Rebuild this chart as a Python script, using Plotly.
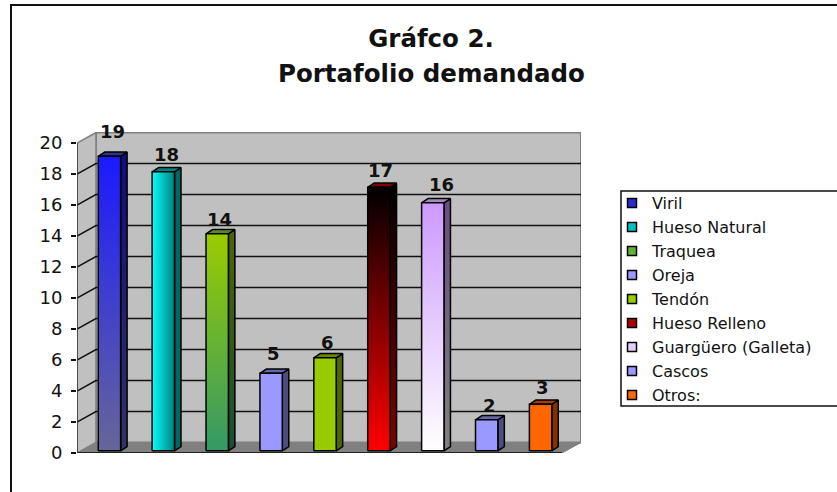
import plotly.graph_objects as go

categories = ["Viril", "Hueso Natural", "Traquea", "Oreja", "Tendón",
              "Hueso Relleno", "Guargüero (Galleta)", "Cascos", "Otros:"]
values = [19, 18, 14, 5, 6, 17, 16, 2, 3]
tick_values = list(range(0, 21, 2))
title_line1 = "Gráfco 2."
title_line2 = "Portafolio demandado"
# gradient: (direction, first colour, second colour)
front_fill = [("vertical", "#666699", "#1a1aff"), ("horizontal", "#00ffff", "#008080"),
              ("vertical", "#339966", "#99cc00"), ("vertical", "#9999ff", "#9999ff"),
              ("vertical", "#99cc00", "#99cc00"), ("vertical", "#ff0000", "#000000"),
              ("vertical", "#ffffff", "#cc99ff"), ("vertical", "#9999ff", "#9999ff"),
              ("vertical", "#ff6600", "#ff6600")]
side_fill = [("#333366", "#0d0d80"), ("#006666", "#006666"), ("#1a4d33", "#4d6600"),
             ("#4d4d80", "#4d4d80"), ("#4d6600", "#4d6600"), ("#800000", "#000000"),
             ("#808080", "#664d80"), ("#4d4d80", "#4d4d80"), ("#803300", "#803300")]
top_fill = ["#33338c", "#008080", "#5a8a20", "#6666aa", "#668800",
            "#800000", "#a58ac0", "#6666aa", "#a04000"]
legend_fill = ["#2a2ad0", "#00c0c0", "#66b033", "#9999ff", "#99cc00",
               "#aa0000", "#e5ccff", "#9999ff", "#ff6600"]
# label placement relative to its bar (px)
label_dx = [3.5, 3, 2, 2, 2, 2, 9, 3, 2]
label_dy = [25, 17, 14, 20, 15, 17, 18, 14, 17]

PX_X = 54.0   # px per category
PX_Y = 15.5   # px per value unit
W, H = 837, 492
L, R, T, B = 77, 581, 132, 453
DEPTH_X = 19 / PX_X
DEPTH_Y = 10.5 / PX_Y
X0, X1 = -0.5, 8.5
BAR_SHIFT_X = 5.5 / PX_X
BAR_SHIFT_Y = 2.2 / PX_Y
HALF = 11.2 / PX_X
SX = 6.5 / PX_X
SY = 4.2 / PX_Y
FONT = "DejaVu Sans"

fig = go.Figure()

def poly(xs, ys, fill=None, grad=None, line="#000000", width=1.5):
    kw = dict(x=xs + xs[:1], y=ys + ys[:1], mode="lines", fill="toself",
              line=dict(color=line, width=width), hoverinfo="skip", showlegend=False)
    if grad:
        kw["fillcolor"] = grad[1]
        kw["fillgradient"] = dict(type=grad[0], colorscale=[[0, grad[1]], [1, grad[2]]])
    else:
        kw["fillcolor"] = fill
    fig.add_trace(go.Scatter(**kw))

def seg(xs, ys, color, width):
    fig.add_trace(go.Scatter(x=xs, y=ys, mode="lines", line=dict(color=color, width=width),
                             hoverinfo="skip", showlegend=False))

ymax = max(tick_values)
# walls
poly([X0 + DEPTH_X, X1 + DEPTH_X, X1 + DEPTH_X, X0 + DEPTH_X],
     [DEPTH_Y, DEPTH_Y, ymax + DEPTH_Y, ymax + DEPTH_Y], fill="#c0c0c0", line="#808080", width=2)
poly([X0, X0 + DEPTH_X, X0 + DEPTH_X, X0],
     [0, DEPTH_Y, ymax + DEPTH_Y, ymax], fill="#c0c0c0", line="#808080", width=1.5)
poly([X0, X1, X1 + DEPTH_X, X0 + DEPTH_X],
     [0, 0, DEPTH_Y, DEPTH_Y], fill="#808080", line="#808080", width=1)

# gridlines along side wall and back wall
gx, gy = [], []
for t in tick_values[1:-1]:
    gx += [X0, X0 + DEPTH_X, X1 + DEPTH_X, None]
    gy += [t, t + DEPTH_Y, t + DEPTH_Y, None]
seg(gx, gy, "#111111", 1.5)
seg([X0, X1], [0, 0], "#222222", 2)
seg([X0, X0], [0, ymax], "#333333", 1.5)

# bars
for i, v in enumerate(values):
    c = i + BAR_SHIFT_X
    y0 = BAR_SHIFT_Y
    y1 = v + BAR_SHIFT_Y
    poly([c + HALF, c + HALF + SX, c + HALF + SX, c + HALF],
         [y0, y0 + SY, y1 + SY, y1], grad=("vertical", side_fill[i][0], side_fill[i][1]))
    poly([c - HALF, c + HALF, c + HALF + SX, c - HALF + SX],
         [y1, y1, y1 + SY, y1 + SY], fill=top_fill[i])
    poly([c - HALF, c + HALF, c + HALF, c - HALF],
         [y0, y0, y1, y1], grad=front_fill[i])

# value labels
for i, v in enumerate(values):
    fig.add_annotation(x=i + BAR_SHIFT_X, y=v + BAR_SHIFT_Y, text=str(v), showarrow=False,
                       xshift=label_dx[i], yshift=label_dy[i], yanchor="middle",
                       font=dict(family=FONT, size=18, color="#111111", weight="bold"))

# legend entries
for name, col in zip(categories, legend_fill):
    fig.add_trace(go.Scatter(x=[None], y=[None], mode="markers", name=name, legendgroup=name,
                             marker=dict(symbol="square", size=9, color=col,
                                         line=dict(color="#000000", width=1.5))))

def px(x):
    return (x - L) / (R - L)

def py(y):
    return (B - y) / (B - T)

fig.update_layout(
    width=W, height=H, autosize=False,
    margin=dict(l=L, r=W - R, t=T, b=H - B, pad=0, autoexpand=False),
    paper_bgcolor="#ffffff", plot_bgcolor="rgba(0,0,0,0)",
    font=dict(family=FONT, color="#111111"),
    title=dict(text="<b>" + title_line1 + "</b>", x=431 / W, xanchor="center",
               y=1 - 38 / H, yanchor="middle",
               font=dict(family=FONT, size=24.5, color="#111111")),
    xaxis=dict(range=[X0, X1 + DEPTH_X], showgrid=False, zeroline=False, showticklabels=False,
               showline=False, ticks="", fixedrange=True),
    yaxis=dict(range=[0, (B - T) / PX_Y], tickvals=tick_values, showgrid=False, zeroline=False,
               ticks="outside", ticklen=5, tickwidth=1.5, tickcolor="#111111", showline=False,
               ticklabelstandoff=5,
               tickfont=dict(family=FONT, size=18, color="#111111"), fixedrange=True),
    legend=dict(x=px(612), y=py(186), xanchor="left", yanchor="top",
                bgcolor="rgba(0,0,0,0)", borderwidth=0,
                font=dict(family=FONT, size=16, color="#111111"),
                tracegroupgap=0.2, itemwidth=30),
    annotations=list(fig.layout.annotations) + [
        dict(text="<b>" + title_line2 + "</b>", xref="paper", yref="paper",
             x=px(431), y=py(73), xanchor="center", yanchor="middle",
             showarrow=False, font=dict(family=FONT, size=24.5, color="#111111"))],
    shapes=[dict(type="rect", xref="paper", yref="paper",
                 x0=px(11), x1=px(860), y0=py(520), y1=py(5),
                 line=dict(color="#111111", width=2), layer="below"),
            dict(type="rect", xref="paper", yref="paper",
                 x0=px(621), x1=px(860), y0=py(406), y1=py(191),
                 fillcolor="#ffffff",
                 line=dict(color="#111111", width=1.5), layer="below")],
)
fig.write_html("out.html", config=dict(displayModeBar=False),
               post_script="document.body.style.margin='0';document.body.style.overflow='hidden';")
